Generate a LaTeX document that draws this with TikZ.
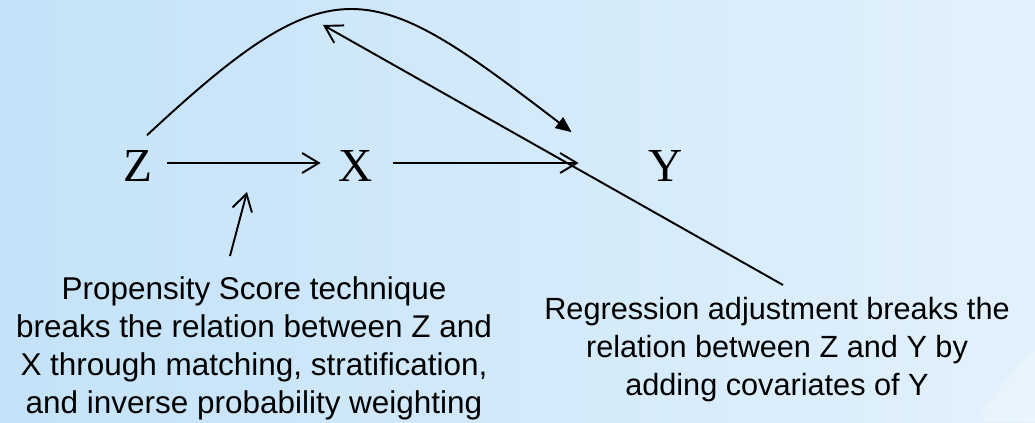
\documentclass[tikz,border=0pt]{standalone}
\usepackage{fontspec}
\setmainfont{Liberation Serif}
\setsansfont{Liberation Sans}
\usetikzlibrary{arrows.meta}
\definecolor{bgleft}{RGB}{196,226,248}
\definecolor{bgright}{RGB}{226,241,252}
\tikzset{
  var/.style={font=\fontsize{35.5}{40}\selectfont,inner sep=0pt},
  note/.style={font=\sffamily\fontsize{23}{28.5}\selectfont,align=center,inner sep=0pt},
  link/.style={line width=1.45pt,-{Straight Barb[length=12.5pt,width=15pt]}},
  back/.style={line width=1.45pt,-{Triangle[length=12pt,width=10pt]}}
}
\begin{document}
\begin{tikzpicture}[x=.75pt,y=-.75pt]
\shade[left color=bgleft,right color=bgright](0,0)rectangle(1035,422);
\fill[white,opacity=.25](975,422)..controls(995,392)and(1012,370)..(1035,352)--(1035,422)--cycle;
\useasboundingbox(0,0)rectangle(1035,422);
\node[var](Z)at(138,166){Z};\node[var](X)at(356,166){X};\node[var](Y)at(666,166){Y};
\node[note,anchor=north,font=\sffamily\fontsize{23.6}{28.5}\selectfont](psnote)at(254,276){Propensity Score technique\\breaks the relation between Z and\\X through matching, stratification,\\and inverse probability weighting};
\node[note,anchor=north](regnote)at(777,297){Regression adjustment breaks the\\relation between Z and Y by\\adding covariates of Y};
\coordinate(pstip)at(247,192);\coordinate(regtip)at(323,25);
\draw[link]([xshift=11pt,yshift=2.25pt]Z.east)--([xshift=-13.5pt,yshift=2.25pt]X.west);
\draw[link]([xshift=15pt,yshift=2.25pt]X.east)--([xshift=-52.5pt,yshift=2.25pt]Y.west);
\draw[back]([xshift=6.75pt,yshift=11.25pt]Z.north)..controls(335,-40)and(370,-22)..([xshift=-57.75pt,yshift=13.5pt]Y.north west);
\draw[link]([xshift=4.5pt,yshift=9pt]regnote.north)--(regtip);
\draw[link]([xshift=-18pt,yshift=15pt]psnote.north)--(pstip);
\end{tikzpicture}
\end{document}
